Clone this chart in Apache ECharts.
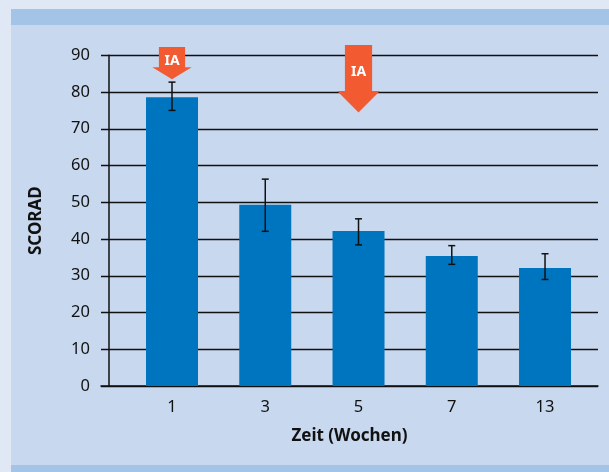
<!DOCTYPE html>
<html>
<head>
<meta charset="utf-8">
<script src="https://cdn.jsdelivr.net/npm/echarts@6/dist/echarts.min.js"></script>
<style>
html,body{margin:0;padding:0;background:#e0e8f5;}
#main{width:609px;height:472px;}
</style>
</head>
<body>
<div id="main"></div>
<script>
// Zeit (Wochen) categories
var weeks = ['1', '3', '5', '7', '13'];
// mean SCORAD
var scorad = [78.6, 49.3, 42.2, 35.4, 32.1];
// error bar ends
var errHigh = [82.7, 56.3, 45.5, 38.2, 36.0];
var errLow = [75.0, 42.1, 38.4, 33.1, 29.0];
// IA arrows (category index, tip value)
var arrowCats = [0, 2];
var arrowTips = [83.5, 74.4];
var arrowText = ['IA', 'IA'];

var font = 'Noto Sans';

var barData = [], errData = [], arrowData = [];
for (var i = 0; i < weeks.length; i++) {
	barData.push([i, scorad[i]]);
	errData.push([i, errLow[i], errHigh[i]]);
}
for (var j = 0; j < arrowCats.length; j++) {
	arrowData.push([arrowCats[j], arrowTips[j], arrowText[j], j]);
}

var option = {
	backgroundColor: '#e0e8f5',
	animation: false,
	graphic: [
		{type: 'rect', shape: {x: 11, y: 9, width: 598, height: 463}, style: {fill: '#c8d9ef'}, z: -10},
		{type: 'rect', shape: {x: 11, y: 9, width: 598, height: 16}, style: {fill: '#a3c3e7'}, z: -10},
		{type: 'rect', shape: {x: 11, y: 465, width: 598, height: 7}, style: {fill: '#a3c3e7'}, z: -10}
	],
	grid: {left: 101, right: 11, top: 55.3, bottom: 86, containLabel: false},
	xAxis: {
		type: 'value',
		min: -0.7614,
		max: 4.568,
		name: 'Zeit (Wochen)',
		nameLocation: 'middle',
		nameGap: 42,
		nameTextStyle: {fontFamily: font, fontWeight: 'bold', fontSize: 17, color: '#111'},
		axisLine: {show: true, onZero: false, lineStyle: {color: '#111', width: 1.5}},
		axisTick: {show: false},
		splitLine: {show: false},
		axisLabel: {
			customValues: [0, 1, 2, 3, 4],
			formatter: function (v) { return weeks[Math.round(v)]; },
			fontFamily: font, fontSize: 16.5, color: '#111', margin: 13
		}
	},
	yAxis: {
		type: 'value',
		min: 0,
		max: 90,
		interval: 10,
		offset: -8,
		name: 'SCORAD',
		nameLocation: 'middle',
		nameRotate: 90,
		nameGap: 64,
		nameTextStyle: {fontFamily: font, fontWeight: 'bold', fontSize: 17, color: '#111'},
		axisLine: {show: true, onZero: false, lineStyle: {color: '#111', width: 1.5}},
		axisTick: {show: false},
		splitLine: {show: true, lineStyle: {color: '#111', width: 1.3}},
		axisLabel: {fontFamily: font, fontSize: 16.5, color: '#111', margin: 19}
	},
	series: [
		{
			type: 'bar',
			data: barData,
			barWidth: 52,
			itemStyle: {color: '#0075bf'},
			z: 2
		},
		{
			type: 'custom',
			data: errData,
			z: 3,
			renderItem: function (params, api) {
				var lo = api.coord([api.value(0), api.value(1)]);
				var hi = api.coord([api.value(0), api.value(2)]);
				var cap = 3.5;
				var st = {stroke: '#111', lineWidth: 1.5};
				return {
					type: 'group',
					children: [
						{type: 'line', shape: {x1: hi[0], y1: hi[1], x2: lo[0], y2: lo[1]}, style: st},
						{type: 'line', shape: {x1: hi[0] - cap, y1: hi[1], x2: hi[0] + cap, y2: hi[1]}, style: st},
						{type: 'line', shape: {x1: lo[0] - cap, y1: lo[1], x2: lo[0] + cap, y2: lo[1]}, style: st}
					]
				};
			}
		},
		{
			type: 'custom',
			data: arrowData,
			z: 4,
			renderItem: function (params, api) {
				var tip = api.coord([api.value(0), api.value(1)]);
				var big = api.value(3) == 1;
				var shaftTop = big ? 67.7 : 32.3;
				var headH = big ? 21.7 : 12;
				var shaftW = big ? 13.6 : 13.1;
				var headW = big ? 21.4 : 19.7;
				var textY = big ? 41 : 18;
				var x = tip[0], y = tip[1];
				return {
					type: 'group',
					children: [
						{
							type: 'polygon',
							shape: {points: [
								[x - shaftW, y - shaftTop], [x + shaftW, y - shaftTop],
								[x + shaftW, y - headH], [x + headW, y - headH],
								[x, y], [x - headW, y - headH],
								[x - shaftW, y - headH]
							]},
							style: {fill: '#f25a32'}
						},
						{
							type: 'text',
							x: x, y: y - textY,
							style: {text: api.value(2), fill: '#fff', fontFamily: font, fontWeight: 'bold', fontSize: 14, align: 'center', verticalAlign: 'middle'}
						}
					]
				};
			}
		}
	]
};

var myChart = echarts.init(document.getElementById('main'));
myChart.setOption(option);
</script>
</body>
</html>
